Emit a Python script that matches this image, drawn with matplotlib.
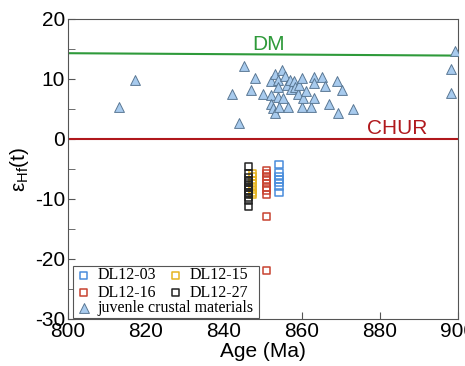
import matplotlib
matplotlib.use("Agg")
import matplotlib.pyplot as plt
from matplotlib.ticker import MultipleLocator
from matplotlib.patches import Rectangle

plt.rcParams['font.family'] = ['Liberation Sans', 'DejaVu Sans']
plt.rcParams['axes.unicode_minus'] = False

# zircon Hf data (age, eHf)
dl03_age = [854.1] * 7
dl03_ehf = [-4.3, -5.6, -6.3, -6.8, -7.3, -7.9, -8.9]
dl15_age = [847.2] * 8
dl15_ehf = [-5.7, -6.3, -6.9, -7.4, -7.9, -8.4, -8.9, -9.3]
dl16_age = [851.0] * 10
dl16_ehf = [-5.3, -5.8, -6.3, -6.8, -7.4, -8.1, -8.5, -9.2, -12.9, -21.9]
dl27_age = [846.2] * 13
dl27_ehf = [-4.6, -5.8, -6.4, -6.9, -7.3, -7.7, -8.1, -8.5, -8.9, -9.3, -9.8, -10.3, -11.2]

# juvenile crustal materials
juv_age = [813.0, 817.1, 842.1, 843.9, 845.0, 847.0, 848.0, 850.1, 852.1, 852.1,
           852.1, 852.6, 853.1, 853.1, 853.9, 853.9, 853.9, 854.2, 854.9, 855.0,
           855.7, 856.2, 856.3, 856.9, 857.1, 857.9, 858.3, 859.0, 859.3, 860.0,
           860.0, 860.2, 861.0, 862.4, 863.1, 863.1, 863.2, 865.1, 866.0, 867.0,
           869.1, 869.2, 870.3, 873.0, 898.1, 898.3, 899.2]
juv_ehf = [5.3, 9.8, 7.5, 2.6, 12.2, 8.2, 10.2, 7.5, 9.6, 7.3,
           5.9, 5.1, 4.4, 10.8, 9.8, 8.6, 7.05, 5.3, 11.5, 6.8,
           10.5, 9.0, 5.3, 9.8, 8.3, 9.6, 8.6, 7.5, 9.0, 10.2,
           5.3, 6.9, 8.05, 5.3, 10.3, 9.3, 6.9, 10.3, 8.8, 5.8,
           9.6, 4.4, 8.2, 5.05, 11.6, 7.7, 14.7]

# reference lines
dm_age = [800, 900]
dm_ehf = [14.3, 13.9]
chur_age = [800, 900]
chur_ehf = [0, 0]

fig = plt.figure(figsize=(4.65, 3.66), dpi=100)
ax = fig.add_axes([68 / 465, 1 - 319 / 366, 390 / 465, 300 / 366])

ax.plot(dm_age, dm_ehf, color='#2e9a3a', lw=1.5, zorder=2)
ax.plot(chur_age, chur_ehf, color='#b0181c', lw=1.5, zorder=2)
ax.text(851.5, 15.8, 'DM', color='#2e9a3a', fontsize=15, ha='center', va='center')
ax.text(884.4, 1.8, 'CHUR', color='#b0181c', fontsize=15, ha='center', va='center')

sq = dict(marker='s', s=26, facecolors='none', linewidths=1.1, zorder=3)
h03 = ax.scatter(dl03_age, dl03_ehf, edgecolors='#4a8ddc', label='DL12-03', **sq)
h16 = ax.scatter(dl16_age, dl16_ehf, edgecolors='#c84230', label='DL12-16', **sq)
hjv = ax.scatter(juv_age, juv_ehf, marker='^', s=50, facecolors='#a8cbee',
                 edgecolors='#5a7894', linewidths=0.7, label='juvenle crustal materials', zorder=4)
h15 = ax.scatter(dl15_age, dl15_ehf, edgecolors='#e6b420', label='DL12-15', **sq)
h27 = ax.scatter(dl27_age, dl27_ehf, edgecolors='#222222', label='DL12-27', **sq)

ax.set_xlim(800, 900)
ax.set_ylim(-30, 20)
ax.xaxis.set_major_locator(MultipleLocator(20))
ax.yaxis.set_major_locator(MultipleLocator(10))
ax.yaxis.set_minor_locator(MultipleLocator(5))
ax.tick_params(which='both', direction='in', labelsize=15, top=False, right=False,
               color='#555555', pad=2)
ax.tick_params(which='major', length=5)
ax.tick_params(which='minor', length=5)
for s in ax.spines.values():
    s.set_color('#555555')

ax.set_xlabel('Age (Ma)', fontsize=15, labelpad=1)
ax.set_ylabel(r'ε$_{\mathregular{Hf}}$(t)', fontsize=15, labelpad=3)

# legend: frame box + two frameless legends inside
box = Rectangle((0.013, 0.003), 0.477, 0.174, transform=ax.transAxes,
                facecolor='white', edgecolor='#555555', lw=0.8, zorder=4.5)
ax.add_patch(box)
lprop = {'family': 'Liberation Serif', 'size': 11.5}
leg1 = ax.legend([h03, h16, h15, h27], ['DL12-03', 'DL12-16', 'DL12-15', 'DL12-27'],
                 ncol=2, loc='upper left', bbox_to_anchor=(0.020, 0.172), prop=lprop,
                 frameon=False, borderpad=0, borderaxespad=0, handlelength=1.0,
                 handletextpad=0.35, columnspacing=0.75, labelspacing=0.1)
ax.add_artist(leg1)
ax.legend([hjv], ['juvenle crustal materials'], loc='upper left',
          bbox_to_anchor=(0.020, 0.062), prop=lprop, frameon=False, borderpad=0,
          borderaxespad=0, handlelength=1.0, handletextpad=0.35)

fig.savefig('out.png', dpi=100)
